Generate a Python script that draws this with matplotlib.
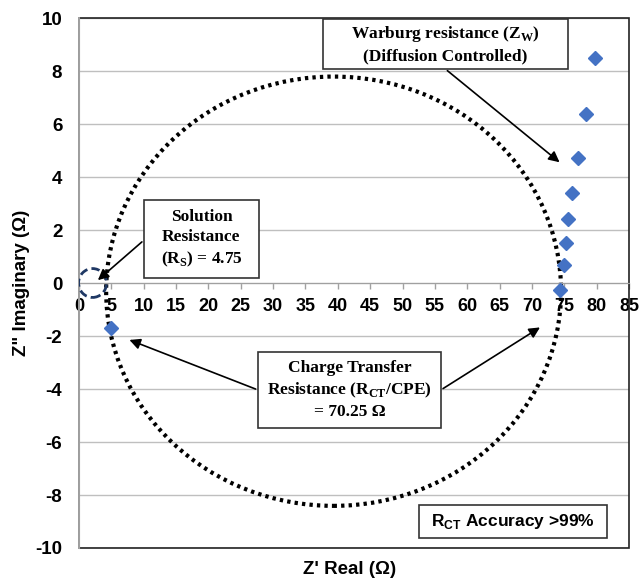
import matplotlib.pyplot as plt
import numpy as np
from matplotlib.patches import Ellipse, Rectangle

plt.rcParams['mathtext.fontset'] = 'custom'
plt.rcParams['mathtext.rm'] = 'Liberation Serif:bold'
plt.rcParams['mathtext.sf'] = 'Liberation Sans:bold'

# Nyquist data
z_real = [5.0, 74.3, 74.9, 75.2, 75.6, 76.2, 77.1, 78.3, 79.8]
z_imag = [-1.7, -0.26, 0.68, 1.5, 2.4, 3.41, 4.72, 6.39, 8.48]

x_ticks = list(range(0, 90, 5))
y_ticks = list(range(-10, 12, 2))

# semicircle fit (drawn as full ellipse in data space)
fit_center = (39.35, -0.31)
fit_width = 70.3
fit_height = 16.2

rs_center = (2.1, 0.0)

fig = plt.figure(figsize=(6.41, 5.81), dpi=100)
ax = fig.add_axes([0.1232, 0.0568, 0.8581, 0.9122])

ax.spines['bottom'].set_position(('data', 0))
ax.spines['bottom'].set_color('#A0A0A0')
ax.spines['left'].set_color('#A0A0A0')
ax.spines['top'].set_visible(False)
ax.spines['right'].set_visible(False)

ax.set_xlim(0, 85)
ax.set_ylim(-10, 10)
ax.set_xticks(x_ticks)
ax.set_yticks(y_ticks)
ax.grid(axis='y', color='#BFBFBF', lw=1)
ax.set_axisbelow(True)

tickfont = dict(family='Liberation Sans', weight='bold')
ax.set_xticklabels([str(v) for v in x_ticks], fontsize=13, **tickfont)
ax.set_yticklabels([str(v) for v in y_ticks], fontsize=13.5, **tickfont)
ax.tick_params(axis='x', direction='out', length=4, width=1, color='#A0A0A0', pad=7)
ax.tick_params(axis='y', length=0, pad=12)

# plot-area frame
ax.add_patch(Rectangle((0, 0), 1, 1, transform=ax.transAxes, fill=False,
                       ec='#222222', lw=1.2, clip_on=False, zorder=1.5))
ax.plot([0, 0], [-10, 10], color='#A0A0A0', lw=1.4, zorder=1.6, clip_on=False)

ax.add_patch(Ellipse(fit_center, fit_width, fit_height, fill=False, ec='black',
                     lw=3, ls=(0, (0.8, 1.0)), zorder=2))
ax.add_patch(Ellipse(rs_center, 4.33, 1.09, fill=False, ec='#1F3864',
                     lw=2, ls=(0, (3, 1.5)), zorder=3))

ax.plot(z_real, z_imag, 'D', color='#4472C4', ms=7.5, zorder=4)

serif = dict(family='Liberation Serif', weight='bold', fontsize=12.5)
arrow = dict(arrowstyle='-|>', color='black', lw=1.2, mutation_scale=16)


def box(x0, y0, x1, y1, text, font, lines=1.35):
    ax.add_patch(Rectangle((x0, y0), x1 - x0, y1 - y0, fc='white', ec='#333333',
                           lw=1.2, zorder=5))
    ax.text((x0 + x1) / 2, (y0 + y1) / 2, text, ha='center', va='center',
            linespacing=lines, zorder=6, **font)


box(10.05, 0.19, 27.8, 3.13, 'Solution\nResistance\n(R$_\\mathrm{S}$) = 4.75', serif)
ax.annotate('', xy=(2.6, 0.04), xytext=(10.05, 1.62), arrowprops=arrow, zorder=6)

box(37.7, 8.08, 75.6, 9.96, 'Warburg resistance (Z$_\\mathrm{W}$)\n(Diffusion Controlled)', serif)
ax.annotate('', xy=(74.6, 4.49), xytext=(56.6, 8.08), arrowprops=arrow, zorder=6)

box(27.7, -5.47, 55.9, -2.6,
    'Charge Transfer\nResistance (R$_\\mathrm{CT}$/CPE)\n= 70.25 Ω', serif)
ax.annotate('', xy=(7.4, -2.11), xytext=(27.7, -4.04), arrowprops=arrow, zorder=6)
ax.annotate('', xy=(71.6, -1.62), xytext=(55.9, -4.04), arrowprops=arrow, zorder=6)

box(52.5, -9.62, 81.6, -8.38, 'R$_\\mathsf{CT}$ Accuracy >99%',
    dict(family='Liberation Sans', weight='bold', fontsize=12.5))

fig.text(0.546, 0.019, "Z' Real (Ω)", ha='center', va='center', fontsize=13.5,
         **tickfont)
fig.text(0.034, 0.513, 'Z" Imaginary (Ω)', ha='center', va='center', rotation=90,
         fontsize=13.5, **tickfont)

fig.savefig('out.png', dpi=100)
